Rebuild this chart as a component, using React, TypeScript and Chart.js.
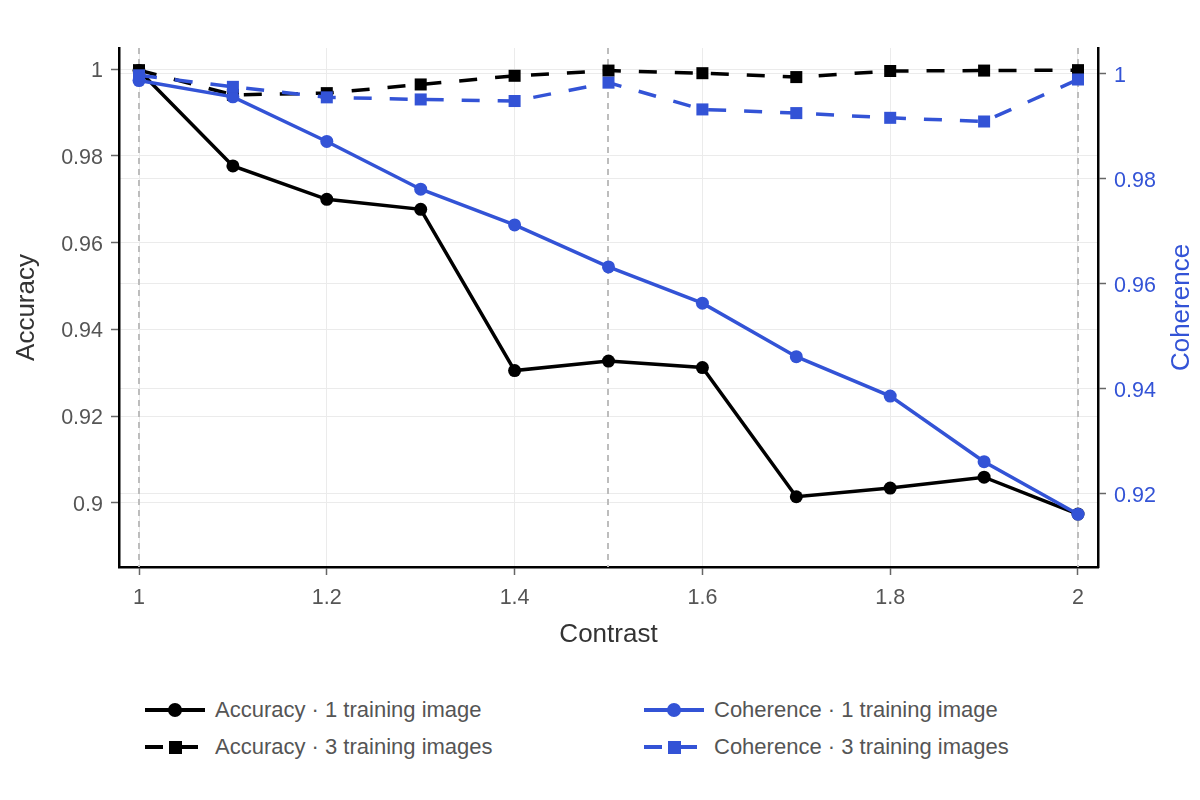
import React, { useEffect, useRef } from "react";
import { Chart, registerables } from "chart.js";

Chart.register(...registerables);

// Contrast levels (x values)
const contrast = [1, 1.1, 1.2, 1.3, 1.4, 1.5, 1.6, 1.7, 1.8, 1.9, 2];

// Accuracy (left axis)
const accuracyOne = [0.9997, 0.9777, 0.97, 0.9677, 0.9305, 0.9327, 0.9312, 0.9014, 0.9034, 0.9059, 0.8974];
const accuracyThree = [0.9998, 0.9941, 0.9945, 0.9965, 0.9985, 0.9997, 0.9991, 0.9982, 0.9996, 0.9997, 0.9998];

// Coherence (right axis)
const coherenceOne = [0.9987, 0.9956, 0.9871, 0.978, 0.9712, 0.9632, 0.9563, 0.9461, 0.9386, 0.9261, 0.9161];
const coherenceThree = [0.9997, 0.9975, 0.9955, 0.9951, 0.9948, 0.9983, 0.9932, 0.9925, 0.9916, 0.9909, 0.9989];

const seriesLabels = [
  "Accuracy · 1 training image",
  "Accuracy · 3 training images",
  "Coherence · 1 training image",
  "Coherence · 3 training images",
];

// Tick labels
const xTicks = [1, 1.2, 1.4, 1.6, 1.8, 2];
const accuracyTicks = [0.9, 0.92, 0.94, 0.96, 0.98, 1];
const coherenceTicks = [0.92, 0.94, 0.96, 0.98, 1];

// Dashed reference lines on the x axis
const referenceLines = [1, 1.5, 2];

const BLACK = "#000000";
const BLUE = "#3353d6";
const FONT = "'Liberation Sans', Arial, sans-serif";
const GRID = "#ebebeb";

const fmt = (v: number) => String(Number(v.toFixed(2)));

const extrasPlugin = {
  id: "extras",
  beforeDatasetsDraw(chart: any) {
    const { ctx, chartArea, scales } = chart;
    ctx.save();
    ctx.strokeStyle = "#bdbdbd";
    ctx.lineWidth = 2;
    ctx.setLineDash([6, 5]);
    referenceLines.forEach((v) => {
      const x = Math.round(scales.x.getPixelForValue(v));
      ctx.beginPath();
      ctx.moveTo(x, chartArea.top);
      ctx.lineTo(x, chartArea.bottom);
      ctx.stroke();
    });
    ctx.restore();
  },
  afterDraw(chart: any) {
    // right axis title reads bottom-to-top
    const { ctx, chartArea } = chart;
    ctx.save();
    ctx.translate(chart.width - 18, (chartArea.top + chartArea.bottom) / 2);
    ctx.rotate(-Math.PI / 2);
    ctx.font = `26px ${FONT}`;
    ctx.fillStyle = BLUE;
    ctx.textAlign = "center";
    ctx.textBaseline = "middle";
    ctx.fillText("Coherence", 0, 0);
    ctx.restore();
  },
};

const Swatch = ({ color, dashed }: { color: string; dashed: boolean }) => (
  <svg width={60} height={20} style={{ marginRight: 10, flex: "none" }}>
    {dashed ? (
      <>
        <line x1={0} y1={10} x2={18} y2={10} stroke={color} strokeWidth={4} />
        <line x1={24} y1={10} x2={53} y2={10} stroke={color} strokeWidth={4} />
        <rect x={24} y={4} width={13} height={13} fill={color} />
      </>
    ) : (
      <>
        <line x1={0} y1={10} x2={60} y2={10} stroke={color} strokeWidth={4} />
        <circle cx={30} cy={10} r={7} fill={color} />
      </>
    )}
  </svg>
);

const App: React.FC = () => {
  const chartRef = useRef<HTMLCanvasElement>(null);
  const chartInstance = useRef<Chart | null>(null);

  useEffect(() => {
    if (!chartRef.current) return;
    if (chartInstance.current) chartInstance.current.destroy();
    const ctx = chartRef.current.getContext("2d");
    if (!ctx) return;

    Chart.defaults.font.family = FONT;

    const points = (ys: number[]) => contrast.map((x, i) => ({ x, y: ys[i] }));
    const tickFont = { size: 21.5 };

    chartInstance.current = new Chart(ctx, {
      type: "line",
      data: {
        datasets: [
          {
            label: seriesLabels[0],
            data: points(accuracyOne),
            yAxisID: "y",
            borderColor: BLACK,
            backgroundColor: BLACK,
            borderWidth: 3.5,
            pointStyle: "circle",
            pointRadius: 6.5,
            pointBorderWidth: 0,
            order: 4,
          },
          {
            label: seriesLabels[1],
            data: points(accuracyThree),
            yAxisID: "y",
            borderColor: BLACK,
            backgroundColor: BLACK,
            borderWidth: 3.5,
            borderDash: [18, 18],
            pointStyle: "rect",
            pointRadius: 8.5,
            pointBorderWidth: 0,
            order: 3,
          },
          {
            label: seriesLabels[2],
            data: points(coherenceOne),
            yAxisID: "y2",
            borderColor: BLUE,
            backgroundColor: BLUE,
            borderWidth: 3.5,
            pointStyle: "circle",
            pointRadius: 6.5,
            pointBorderWidth: 0,
            order: 2,
          },
          {
            label: seriesLabels[3],
            data: points(coherenceThree),
            yAxisID: "y2",
            borderColor: BLUE,
            backgroundColor: BLUE,
            borderWidth: 3.5,
            borderDash: [18, 18],
            pointStyle: "rect",
            pointRadius: 8.5,
            pointBorderWidth: 0,
            order: 1,
          },
        ],
      },
      options: {
        responsive: true,
        maintainAspectRatio: false,
        animation: false,
        layout: { padding: { top: 48, left: 0, right: 0, bottom: 0 } },
        plugins: {
          legend: { display: false },
          tooltip: { enabled: false },
        },
        scales: {
          x: {
            type: "linear",
            min: 0.9787,
            max: 2.0213,
            afterFit: (s: any) => {
              s.height = 113;
            },
            afterBuildTicks: (s: any) => {
              s.ticks = xTicks.map((value) => ({ value }));
            },
            ticks: {
              color: "#555",
              font: tickFont,
              padding: 10,
              callback: (v: any) => fmt(Number(v)),
            },
            grid: { color: GRID, lineWidth: 1, tickColor: "#666", tickWidth: 1.5, tickLength: 8 },
            border: { color: BLACK, width: 2.5 },
            title: {
              display: true,
              text: "Contrast",
              color: "#333",
              font: { size: 26 },
              padding: { top: 0, bottom: 30 },
            },
          },
          y: {
            type: "linear",
            position: "left",
            min: 0.88519,
            max: 1.00491,
            afterFit: (s: any) => {
              s.width = 119;
            },
            afterBuildTicks: (s: any) => {
              s.ticks = accuracyTicks.map((value) => ({ value }));
            },
            ticks: {
              color: "#555",
              font: tickFont,
              padding: 8,
              labelOffset: 2,
              callback: (v: any) => fmt(Number(v)),
            },
            grid: { color: GRID, lineWidth: 1, tickColor: "#666", tickWidth: 1.5, tickLength: 8 },
            border: { color: BLACK, width: 2.5 },
            title: {
              display: true,
              text: "Accuracy",
              color: "#333",
              font: { size: 26 },
              padding: { top: 11, bottom: 0 },
            },
          },
          y2: {
            type: "linear",
            position: "right",
            min: 0.90604,
            max: 1.0049,
            afterFit: (s: any) => {
              s.width = 102;
            },
            afterBuildTicks: (s: any) => {
              s.ticks = coherenceTicks.map((value) => ({ value }));
            },
            ticks: {
              color: BLUE,
              font: tickFont,
              padding: 8,
              labelOffset: 2,
              callback: (v: any) => fmt(Number(v)),
            },
            grid: { color: GRID, lineWidth: 1, tickColor: "#666", tickWidth: 1.5, tickLength: 8 },
            border: { color: BLACK, width: 2.5 },
          },
        },
      },
      plugins: [extrasPlugin],
    });

    return () => {
      if (chartInstance.current) {
        chartInstance.current.destroy();
        chartInstance.current = null;
      }
    };
  }, []);

  const legendItems = [
    { label: seriesLabels[0], color: BLACK, dashed: false },
    { label: seriesLabels[2], color: BLUE, dashed: false },
    { label: seriesLabels[1], color: BLACK, dashed: true },
    { label: seriesLabels[3], color: BLUE, dashed: true },
  ];

  return (
    <div
      style={{
        position: "absolute",
        left: 0,
        top: 0,
        width: 1200,
        height: 800,
        background: "#fff",
        fontFamily: FONT,
      }}
    >
      <div style={{ position: "absolute", left: 0, top: 0, width: 1200, height: 680 }}>
        <canvas ref={chartRef}></canvas>
      </div>
      <div
        style={{
          position: "absolute",
          left: 145,
          top: 691.5,
          display: "grid",
          gridTemplateColumns: "499px 499px",
          gridAutoRows: "37px",
        }}
      >
        {legendItems.map((item, i) => (
          <div key={i} style={{ display: "flex", alignItems: "center" }}>
            <Swatch color={item.color} dashed={item.dashed} />
            <span style={{ fontSize: 22, color: "#555", whiteSpace: "nowrap" }}>{item.label}</span>
          </div>
        ))}
      </div>
    </div>
  );
};

export default App;
